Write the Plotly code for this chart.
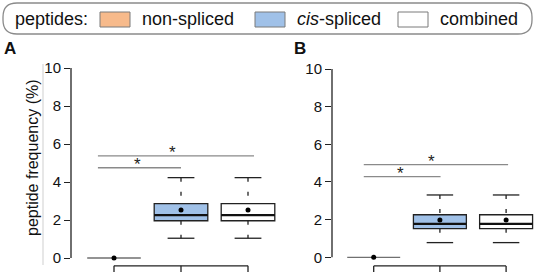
import plotly.graph_objects as go

# ---------------- data ----------------
categories = ["non-spliced", "cis-spliced", "combined"]
y_ticks = [0, 2, 4, 6, 8, 10]

# panel A box statistics (peptide frequency, %)
A_q1 = [0.0, 1.96, 1.96]
A_median = [0.0, 2.26, 2.26]
A_q3 = [0.0, 2.86, 2.86]
A_lower = [0.0, 1.04, 1.04]
A_upper = [0.0, 4.23, 4.23]
A_mean = [0.0, 2.53, 2.53]
A_sig_levels = [4.75, 5.38]      # y of significance bars (ns vs cis, ns vs combined)

# panel B box statistics
B_q1 = [0.0, 1.52, 1.52]
B_median = [0.0, 1.78, 1.78]
B_q3 = [0.0, 2.26, 2.26]
B_lower = [0.0, 0.78, 0.78]
B_upper = [0.0, 3.31, 3.31]
B_mean = [0.0, 1.98, 1.98]
B_sig_levels = [4.28, 4.92]

# ---------------- style / layout ----------------
W, H = 536, 272
FONT = "Liberation Sans, Arial, Helvetica, sans-serif"
fills = ["#F7BA8B", "#A0C1E8", "#FFFFFF"]
positions = [1, 2, 3]

def px_x(p):
    return p / W

def px_y(p):
    return 1 - p / H

fig = go.Figure()


def add_panel(n, q1, med, q3, lo, hi, mean, sig_levels, sig_x0, sig_x1, star_x, bracket_y):
    xa = "x" if n == 1 else "x2"
    ya = "y" if n == 1 else "y2"
    for i, cat in enumerate(categories):
        fig.add_trace(go.Box(
            x=[positions[i]], q1=[q1[i]], median=[med[i]], q3=[q3[i]],
            lowerfence=[q1[i]], upperfence=[q3[i]],
            width=0.8, fillcolor=fills[i],
            line=dict(color="#707070" if i == 0 else "#222222", width=1.3),
            whiskerwidth=0, boxpoints=False, name=cat,
            xaxis=xa, yaxis=ya, showlegend=False, hoverinfo="skip"))
    # whiskers (dashed) and caps
    wx, wy, cx, cy, mx, my = [], [], [], [], [], []
    for i in range(len(categories)):
        if hi[i] == lo[i]:
            continue
        p = positions[i]
        wx += [p, p, None, p, p, None]
        wy += [hi[i], q3[i], None, q1[i], lo[i], None]
        cx += [p - 0.2, p + 0.2, None, p - 0.2, p + 0.2, None]
        cy += [hi[i], hi[i], None, lo[i], lo[i], None]
        mx += [p - 0.4, p + 0.4, None]
        my += [med[i], med[i], None]
    fig.add_trace(go.Scatter(x=wx, y=wy, mode="lines", xaxis=xa, yaxis=ya,
                             line=dict(color="#222222", width=1.3, dash="4px,10px"),
                             showlegend=False, hoverinfo="skip"))
    fig.add_trace(go.Scatter(x=cx, y=cy, mode="lines", xaxis=xa, yaxis=ya,
                             line=dict(color="#222222", width=1.3),
                             showlegend=False, hoverinfo="skip"))
    fig.add_trace(go.Scatter(x=mx, y=my, mode="lines", xaxis=xa, yaxis=ya,
                             line=dict(color="#111111", width=2.2),
                             showlegend=False, hoverinfo="skip"))
    # means
    fig.add_trace(go.Scatter(x=positions, y=mean, mode="markers", xaxis=xa, yaxis=ya,
                             marker=dict(color="black", size=5),
                             showlegend=False, hoverinfo="skip"))
    # significance bars
    for k, lvl in enumerate(sig_levels):
        fig.add_trace(go.Scatter(x=[sig_x0, sig_x1[k]], y=[lvl, lvl], mode="lines",
                                 xaxis=xa, yaxis=ya,
                                 line=dict(color="#8a8a8a", width=1.3),
                                 showlegend=False, hoverinfo="skip"))
        fig.add_annotation(x=star_x[k], y=lvl, xref=xa, yref=ya, text="*",
                           showarrow=False, yanchor="bottom", xanchor="center", yshift=-8,
                           font=dict(size=17, color="#222", family=FONT))
    # bottom bracket (x-axis of categories, no labels)
    bx = [positions[0], positions[-1], None]
    by = [bracket_y, bracket_y, None]
    for p in positions:
        bx += [p, p, None]
        by += [bracket_y, bracket_y - 1, None]
    fig.add_trace(go.Scatter(x=bx, y=by, mode="lines", xaxis=xa, yaxis=ya,
                             line=dict(color="#222222", width=1.3),
                             showlegend=False, hoverinfo="skip"))
    # y axis line from 0 to 10
    fig.add_shape(type="line", xref=f"{xa} domain", yref=ya, x0=0, x1=0,
                  y0=y_ticks[0], y1=y_ticks[-1], line=dict(color="#222", width=1.3))


add_panel(1, A_q1, A_median, A_q3, A_lower, A_upper, A_mean, A_sig_levels,
          0.76, [2.0, 3.09], [1.35, 1.87], -0.41)
add_panel(2, B_q1, B_median, B_q3, B_lower, B_upper, B_mean, B_sig_levels,
          0.85, [2.01, 3.03], [1.41, 1.876], -0.46)

yax = dict(tickvals=y_ticks, ticks="outside", ticklen=6, tickwidth=1.3, tickcolor="#222",
           showline=False, showgrid=False, zeroline=False,
           tickfont=dict(size=15, color="#111", family=FONT))
fig.update_layout(
    width=W, height=H, margin=dict(l=0, r=0, t=0, b=0),
    paper_bgcolor="white", plot_bgcolor="rgba(0,0,0,0)",
    font=dict(family=FONT, color="#111"),
    xaxis=dict(domain=[px_x(71), px_x(292)], range=[1 - 43 / 67, 1 + 178 / 67], visible=False),
    xaxis2=dict(domain=[px_x(332), 1], range=[1 - 41.7 / 66.2, 1 + 162.3 / 66.2], visible=False),
    yaxis=dict(domain=[0, px_y(60)], range=[-14 / 19, 198 / 19], anchor="x", **yax),
    yaxis2=dict(domain=[0, px_y(60)], range=[-14.7 / 18.83, 197.3 / 18.83], anchor="x2", **yax),
)

# y-axis title
fig.add_annotation(x=px_x(32), y=px_y(158), xref="paper", yref="paper",
                   xanchor="center", yanchor="middle",
                   text="peptide frequency (%)", textangle=-90, showarrow=False,
                   font=dict(size=16, color="#111", family=FONT))
# thin grey separator
fig.add_shape(type="line", xref="paper", yref="paper", x0=px_x(43), x1=px_x(43),
              y0=px_y(64), y1=px_y(265), line=dict(color="#cfcfcf", width=1))
# panel letters
for lbl, xp in [("A", 10), ("B", 300)]:
    fig.add_annotation(x=px_x(xp), y=px_y(48), xref="paper", yref="paper", text=f"<b>{lbl}</b>",
                       xanchor="center", yanchor="middle",
                       showarrow=False, font=dict(size=17, color="#111", family=FONT))

# legend box (rounded)
x0, x1, y0, y1, r = 3, 532, 3, 34, 14
pts = (f"M {px_x(x0 + r)},{px_y(y0)} L {px_x(x1 - r)},{px_y(y0)} "
       f"Q {px_x(x1)},{px_y(y0)} {px_x(x1)},{px_y(y0 + r)} L {px_x(x1)},{px_y(y1 - r)} "
       f"Q {px_x(x1)},{px_y(y1)} {px_x(x1 - r)},{px_y(y1)} L {px_x(x0 + r)},{px_y(y1)} "
       f"Q {px_x(x0)},{px_y(y1)} {px_x(x0)},{px_y(y1 - r)} L {px_x(x0)},{px_y(y0 + r)} "
       f"Q {px_x(x0)},{px_y(y0)} {px_x(x0 + r)},{px_y(y0)} Z")
fig.add_shape(type="path", xref="paper", yref="paper", path=pts,
              line=dict(color="#8a8a8a", width=1.3))

legend_labels = ["non-spliced", "<i>cis</i>-spliced", "combined"]
swatch_x = [100, 255, 398]
text_x = [140, 295, 438]
LEG_Y = 19
fig.add_annotation(x=px_x(13), y=px_y(LEG_Y), xref="paper", yref="paper", text="peptides:",
                   showarrow=False, xanchor="left", yanchor="middle",
                   font=dict(size=18, color="#111", family=FONT))
for lab, sx, tx, col in zip(legend_labels, swatch_x, text_x, fills):
    fig.add_shape(type="rect", xref="paper", yref="paper", x0=px_x(sx), x1=px_x(sx + 30),
                  y0=px_y(27), y1=px_y(12), fillcolor=col, line=dict(color="#7a7a7a", width=1))
    fig.add_annotation(x=px_x(tx), y=px_y(LEG_Y), xref="paper", yref="paper", text=lab,
                       showarrow=False, xanchor="left", yanchor="middle",
                       font=dict(size=18, color="#111", family=FONT))

fig.write_html("out.html", config={"displayModeBar": False},
               post_script="document.body.style.margin='0';")
